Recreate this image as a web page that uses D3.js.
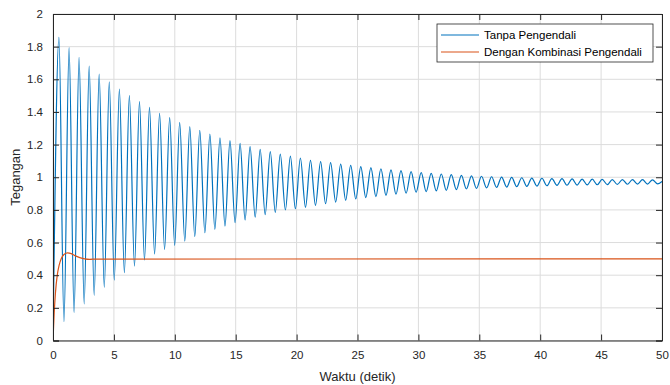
<!DOCTYPE html>
<html>
<head>
<meta charset="utf-8">
<script src="https://cdn.jsdelivr.net/npm/d3@7"></script>
<style>
  body { margin: 0; background: #fff; }
  svg { display: block; font-family: "Liberation Sans", Arial, sans-serif; }
</style>
</head>
<body>
<svg id="chart" width="670" height="385"></svg>
<script>
// x / y axis ticks
const xTicks = [0, 5, 10, 15, 20, 25, 30, 35, 40, 45, 50];
const yTicks = [0, 0.2, 0.4, 0.6, 0.8, 1, 1.2, 1.4, 1.6, 1.8, 2];

// Tanpa Pengendali: peaks and troughs (seconds, volts)
const peakTimes = [0.49, 1.32, 2.14, 2.97, 3.79, 4.62, 5.45, 6.27, 7.10, 7.92,
  8.75, 9.58, 10.40, 11.23, 12.05, 12.88, 13.71, 14.53, 15.36, 16.18,
  17.01, 17.84, 18.66, 19.49, 20.31, 21.14, 21.97, 22.79, 23.62, 24.44,
  25.27, 26.10, 26.92, 27.75, 28.57, 29.40, 30.23, 31.05, 31.88, 32.70,
  33.53, 34.36, 35.18, 36.01, 36.83, 37.66, 38.49, 39.31, 40.14, 40.96,
  41.79, 42.62, 43.44, 44.27, 45.09, 45.92, 46.75, 47.57, 48.40, 49.22];
const peakValues = [1.857, 1.794, 1.735, 1.681, 1.632, 1.585, 1.540, 1.500, 1.463, 1.428,
  1.392, 1.365, 1.336, 1.310, 1.288, 1.265, 1.242, 1.224, 1.208, 1.187,
  1.171, 1.157, 1.142, 1.130, 1.118, 1.103, 1.096, 1.089, 1.081, 1.073,
  1.065, 1.059, 1.052, 1.045, 1.040, 1.034, 1.028, 1.024, 1.020, 1.016,
  1.012, 1.009, 1.006, 1.003, 1.001, 0.999, 0.997, 0.995, 0.994, 0.992,
  0.991, 0.990, 0.989, 0.988, 0.987, 0.986, 0.986, 0.985, 0.985, 0.984];
const troughTimes = [0.90, 1.73, 2.56, 3.38, 4.21, 5.03, 5.86, 6.69, 7.51, 8.34,
  9.16, 9.99, 10.82, 11.64, 12.47, 13.29, 14.12, 14.95, 15.77, 16.60,
  17.42, 18.25, 19.08, 19.90, 20.73, 21.55, 22.38, 23.21, 24.03, 24.86,
  25.68, 26.51, 27.34, 28.16, 28.99, 29.81, 30.64, 31.47, 32.29, 33.12,
  33.94, 34.77, 35.60, 36.42, 37.25, 38.07, 38.90, 39.73, 40.55, 41.38,
  42.20, 43.03, 43.86, 44.68, 45.51, 46.33, 47.16, 47.99, 48.81, 49.64];
const troughValues = [0.115, 0.170, 0.224, 0.277, 0.326, 0.370, 0.415, 0.456, 0.493, 0.530,
  0.558, 0.583, 0.609, 0.636, 0.660, 0.681, 0.701, 0.722, 0.738, 0.755,
  0.771, 0.785, 0.800, 0.807, 0.816, 0.828, 0.838, 0.848, 0.859, 0.867,
  0.875, 0.881, 0.889, 0.896, 0.902, 0.908, 0.912, 0.916, 0.920, 0.924,
  0.928, 0.932, 0.935, 0.938, 0.940, 0.942, 0.944, 0.946, 0.948, 0.950,
  0.951, 0.952, 0.953, 0.954, 0.955, 0.956, 0.957, 0.958, 0.958, 0.959];
const blueStart = [0, 0];
const blueEnd = [50, 0.975];

// Dengan Kombinasi Pengendali
const orangeTimes = [0, 0.1, 0.2, 0.35, 0.5, 0.7, 0.9, 1.2, 1.5, 1.8, 2.2, 2.6, 3.0, 3.5, 50];
const orangeValues = [0, 0.17, 0.29, 0.40, 0.46, 0.505, 0.527, 0.537, 0.532, 0.52, 0.508, 0.5, 0.497, 0.499, 0.5];

const seriesNames = ['Tanpa Pengendali', 'Dengan Kombinasi Pengendali'];
const seriesColors = ['#0072BD', '#D95319'];

const margin = { top: 14, right: 8, bottom: 44.5, left: 53 };
const width = 670, height = 385;
const iw = width - margin.left - margin.right;
const ih = height - margin.top - margin.bottom;

const svg = d3.select('#chart');
const axisColor = '#262626';

const x = d3.scaleLinear().domain([0, 50]).range([0, iw]);
const y = d3.scaleLinear().domain([0, 2]).range([ih, 0]);

const g = svg.append('g').attr('transform', `translate(${margin.left},${margin.top})`);

// grid
g.append('g').selectAll('line').data(xTicks).join('line')
  .attr('x1', d => x(d)).attr('x2', d => x(d))
  .attr('y1', 0).attr('y2', ih)
  .attr('stroke', '#dcdcdc').attr('stroke-width', 1);
g.append('g').selectAll('line').data(yTicks).join('line')
  .attr('y1', d => y(d)).attr('y2', d => y(d))
  .attr('x1', 0).attr('x2', iw)
  .attr('stroke', '#dcdcdc').attr('stroke-width', 1);

g.append('clipPath').attr('id', 'clip')
  .append('rect').attr('width', iw).attr('height', ih);

// build blue points from peaks and troughs
const bluePts = [blueStart];
peakTimes.forEach((t, i) => {
  bluePts.push([t, peakValues[i]]);
  bluePts.push([troughTimes[i], troughValues[i]]);
});
bluePts.push(blueEnd);

const orangePts = orangeTimes.map((t, i) => [t, orangeValues[i]]);

const line = d3.line()
  .x(d => x(d[0]))
  .y(d => y(d[1]))
  .curve(d3.curveMonotoneX);

const plot = g.append('g').attr('clip-path', 'url(#clip)');
plot.append('path').datum(bluePts)
  .attr('d', line).attr('fill', 'none')
  .attr('stroke', seriesColors[0]).attr('stroke-width', 1.2);
plot.append('path').datum(orangePts)
  .attr('d', line).attr('fill', 'none')
  .attr('stroke', seriesColors[1]).attr('stroke-width', 1.2);

// axes (MATLAB-like: inward ticks, box)
const tickLen = 6;
const xAxis = d3.axisBottom(x).tickValues(xTicks).tickSize(-tickLen).tickPadding(tickLen + 4).tickFormat(d3.format('d'));
const yAxis = d3.axisLeft(y).tickValues(yTicks).tickSize(-tickLen).tickPadding(tickLen + 4).tickFormat(d => d3.format('~g')(d));

g.append('g').attr('transform', `translate(0,${ih})`).call(xAxis);
g.append('g').call(yAxis);
g.append('g').call(d3.axisTop(x).tickValues(xTicks).tickSize(-tickLen).tickFormat(''));
g.append('g').attr('transform', `translate(${iw},0)`)
  .call(d3.axisRight(y).tickValues(yTicks).tickSize(-tickLen).tickFormat(''));

g.selectAll('.domain, .tick line').attr('stroke', axisColor);
g.selectAll('.tick text').attr('fill', axisColor).attr('font-size', 11.5)
  .attr('font-family', '"Liberation Sans", Arial, sans-serif');

// axis labels
svg.append('text')
  .attr('x', margin.left + iw / 2).attr('y', 381)
  .attr('text-anchor', 'middle').attr('font-size', 13).attr('fill', axisColor)
  .text('Waktu (detik)');
svg.append('text')
  .attr('transform', `translate(20,${margin.top + ih / 2}) rotate(-90)`)
  .attr('text-anchor', 'middle').attr('font-size', 13).attr('fill', axisColor)
  .text('Tegangan');

// legend
const lg = svg.append('g').attr('transform', 'translate(437,24)');
lg.append('rect').attr('width', 216).attr('height', 38)
  .attr('fill', '#fff').attr('stroke', axisColor).attr('stroke-width', 0.8);
seriesNames.forEach((name, i) => {
  const yy = 11 + i * 17;
  lg.append('line').attr('x1', 4).attr('x2', 42).attr('y1', yy).attr('y2', yy)
    .attr('stroke', seriesColors[i]).attr('stroke-width', 1.2);
  lg.append('text').attr('x', 47).attr('y', yy + 4)
    .attr('font-size', 11.5).attr('fill', '#000').text(name);
});
</script>
</body>
</html>
